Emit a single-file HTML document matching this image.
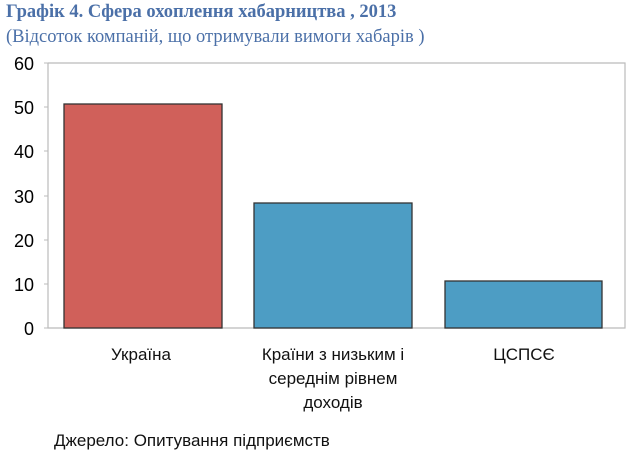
<!DOCTYPE html>
<html><head><meta charset="utf-8"><style>
body{margin:0;width:630px;height:457px;background:#fff;overflow:hidden;position:relative;font-family:"Liberation Sans",sans-serif}
.t{position:absolute;left:6px;color:#4b70a8;font-family:"Liberation Serif",serif;white-space:nowrap}
</style></head><body>
<div class="t" style="top:2px;font-size:18.5px;font-weight:bold">Графік 4. Сфера охоплення хабарництва , 2013</div>
<div class="t" style="top:27px;font-size:18.5px">(Відсоток компаній, що отримували вимоги хабарів )</div>
<svg width="630" height="457" style="position:absolute;left:0;top:0">
<g font-family="Liberation Sans" font-size="18" fill="#000" text-anchor="end">
<text x="34" y="70">60</text><text x="34" y="114">50</text><text x="34" y="158">40</text>
<text x="34" y="203">30</text><text x="34" y="247">20</text><text x="34" y="291">10</text><text x="34" y="335">0</text>
</g>
<path d="M48 63V328H625V63H48" fill="none" stroke="#bbb" stroke-width="1.2"/>
<g stroke="#bbb"><line x1="44" x2="48" y1="63" y2="63"/><line x1="44" x2="48" y1="107" y2="107"/><line x1="44" x2="48" y1="151" y2="151"/><line x1="44" x2="48" y1="196" y2="196"/><line x1="44" x2="48" y1="240" y2="240"/><line x1="44" x2="48" y1="284" y2="284"/><line x1="44" x2="48" y1="328" y2="328"/></g>
<rect x="64" y="104" width="158" height="224" fill="#d0605a" stroke="#333" stroke-width="1.3"/>
<rect x="254" y="203" width="158" height="125" fill="#4d9dc4" stroke="#333" stroke-width="1.3"/>
<rect x="445" y="281" width="157" height="47" fill="#4d9dc4" stroke="#333" stroke-width="1.3"/>
<g font-family="Liberation Sans" font-size="17" fill="#111" text-anchor="middle">
<text x="141" y="360">Україна</text>
<text x="333" y="360">Країни з низьким і</text>
<text x="333" y="384">середнім рівнем</text>
<text x="333" y="408">доходів</text>
<text x="524" y="360">ЦСПСЄ</text>
<text x="54" y="446" text-anchor="start" font-size="17">Джерело: Опитування підприємств</text>
</g>
</svg>
</body></html>
